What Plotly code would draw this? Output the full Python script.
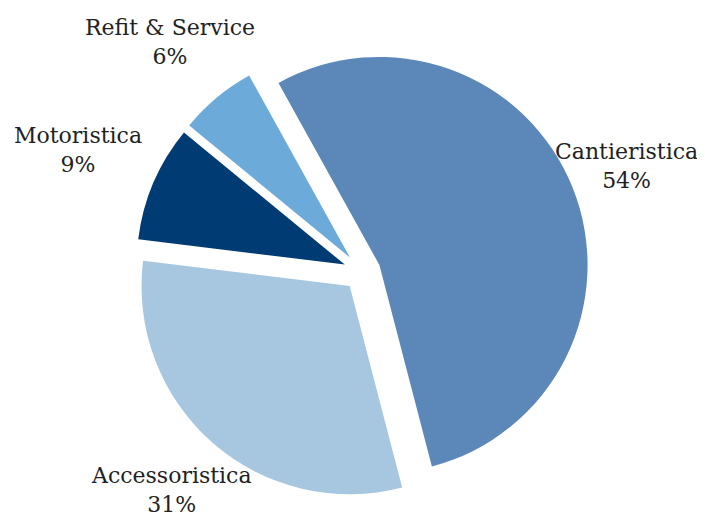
import math
import plotly.graph_objects as go

labels = ["Cantieristica", "Accessoristica", "Motoristica", "Refit & Service"]
values = [54, 31, 9, 6]
colors = ["#5B87B9", "#A7C6E0", "#003B73", "#6CAADA"]
pulls = [0.09, 0.09, 0.09, 0.09]

# layout / style parameters
W, H = 705, 516
ROTATION = -29            # start angle of first slice (deg, clockwise from 12 o'clock)
DOM_X = [0.01, 0.9943]
DOM_Y = [0.0487, 0.9281]
label_dist = [1.37, 1.39, 1.485, 1.44]   # label centre distance, in pie radii
FONT = dict(family="DejaVu Serif", size=22, color="#222222")

fig = go.Figure(go.Pie(
    labels=labels,
    values=values,
    sort=False,
    direction="clockwise",
    rotation=ROTATION,
    pull=pulls,
    marker=dict(colors=colors, line=dict(width=0)),
    textinfo="none",
    domain=dict(x=DOM_X, y=DOM_Y),
    showlegend=False,
    hoverinfo="label+percent",
))

# pie geometry (as plotly lays it out) -> label positions from the data
dom_w = W * (DOM_X[1] - DOM_X[0])
dom_h = H * (DOM_Y[1] - DOM_Y[0])
R = min(dom_w, dom_h) / 2 / (1 + max(pulls))
cx = W * (DOM_X[0] + DOM_X[1]) / 2
cy = H * (1 - (DOM_Y[0] + DOM_Y[1]) / 2)   # from top

total = sum(values)
cum = 0
annotations = []
for lab, v, k in zip(labels, values, label_dist):
    mid = ROTATION + 360 * (cum + v / 2) / total
    cum += v
    a = math.radians(mid)
    px = cx + k * R * math.sin(a)
    py = cy - k * R * math.cos(a)
    pct = round(100 * v / total)
    annotations.append(dict(
        x=px / W, y=1 - py / H, xref="paper", yref="paper",
        text=f"{lab}<br>{pct}%", showarrow=False,
        xanchor="center", yanchor="middle", font=FONT, align="center",
    ))

fig.update_layout(
    width=W,
    height=H,
    margin=dict(l=0, r=0, t=0, b=0),
    paper_bgcolor="white",
    plot_bgcolor="white",
    annotations=annotations,
)

fig.write_html("out.html")
